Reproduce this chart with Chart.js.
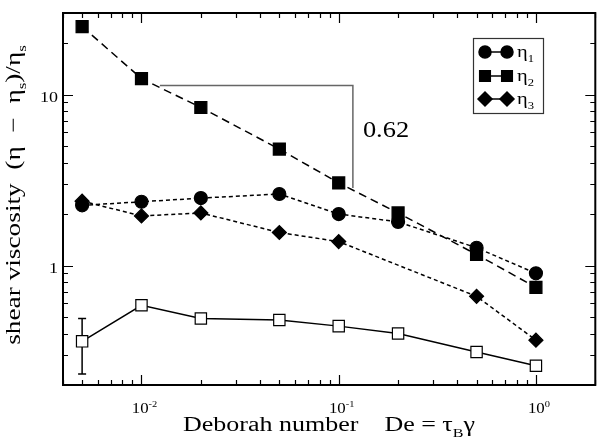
<!DOCTYPE html>
<html>
<head>
<meta charset="utf-8">
<script src="https://cdn.jsdelivr.net/npm/chart.js@4/dist/chart.umd.min.js"></script>
<style>
  html, body { margin: 0; padding: 0; background: #fff; }
  canvas { display: block; }
</style>
</head>
<body>
<canvas id="chart" width="605" height="442"></canvas>
<script>
// Deborah numbers (x)
const deborah = [0.005, 0.01, 0.02, 0.05, 0.1, 0.2, 0.5, 1];

// viscosity series
const eta1 = [2.25, 2.36, 2.48, 2.62, 2.0, 1.80, 1.27, 0.90];
const eta2 = [25.0, 12.4, 8.4, 4.8, 3.04, 2.03, 1.16, 0.745];
const eta3 = [2.38, 1.95, 2.03, 1.56, 1.38, null, 0.66, 0.366];
const etaOpen = [0.36, 0.585, 0.49, 0.48, 0.442, 0.40, 0.312, 0.259];

// error bar on the open squares (only first point)
const errLow = [0.232, null, null, null, null, null, null, null];
const errHigh = [0.49, null, null, null, null, null, null, null];

// slope guide
const slopeX = [0.0124, 0.118, 0.118];
const slopeY = [11.3, 11.3, 2.84];
const slopeLabel = '0.62';

// axes
const xRange = [0.004, 2];
const yRange = [0.2, 30];
const xTickValues = [0.01, 0.1, 1];
const xTickExps = ['-2', '-1', '0'];
const yTickValues = [1, 10];
const yTickLabels = ['1', '10'];

const legendNames = ['1', '2', '3'];

const serif = '"Liberation Serif", "Times New Roman", serif';
// text in the figure is wider than plain Times
const HS = 1.3;

function toPoints(xs, ys) {
    return xs.map((x, i) => ({ x: x, y: ys[i] }));
}

// draw text with sub/superscripts: parts = [[text, mode], ...]
function drawRich(ctx, parts, x, y, size, align, hs) {
    hs = hs || HS;
    let total = 0;
    const widths = parts.map(([t, mode]) => {
        const s = Math.round((mode ? size * 0.62 : size) * 10) / 10;
        ctx.font = s + 'px ' + serif;
        const w = ctx.measureText(t).width;
        total += w;
        return w;
    });
    let cx = 0;
    if (align === 'center') cx = -total / 2;
    if (align === 'right') cx = -total;
    ctx.save();
    ctx.translate(x, y);
    ctx.scale(hs, 1);
    ctx.textAlign = 'left';
    ctx.textBaseline = 'alphabetic';
    parts.forEach(([t, mode], i) => {
        const s = Math.round((mode ? size * 0.62 : size) * 10) / 10;
        ctx.font = s + 'px ' + serif;
        let dy = 0;
        if (mode === 'sub') dy = size * 0.3;
        if (mode === 'sup') dy = -size * 0.45;
        ctx.fillText(t, cx, dy);
        cx += widths[i];
    });
    ctx.restore();
}

function logTicks(min, max) {
    const out = [];
    for (let d = Math.floor(Math.log10(min)); d <= Math.ceil(Math.log10(max)); d++) {
        for (let k = 1; k <= 9; k++) {
            const v = k * Math.pow(10, d);
            if (v >= min * 0.999 && v <= max * 1.001) out.push({ v: v, major: k === 1 });
        }
    }
    return out;
}

const errorBars = {
    id: 'errorBars',
    beforeDatasetsDraw(chart) {
        const { ctx, scales } = chart;
        ctx.save();
        ctx.strokeStyle = '#000';
        ctx.lineWidth = 1.5;
        deborah.forEach((x, i) => {
            if (errLow[i] == null) return;
            const px = scales.x.getPixelForValue(x);
            const y1 = scales.y.getPixelForValue(errLow[i]);
            const y2 = scales.y.getPixelForValue(errHigh[i]);
            ctx.beginPath();
            ctx.moveTo(px, y1); ctx.lineTo(px, y2);
            ctx.moveTo(px - 4, y1); ctx.lineTo(px + 4, y1);
            ctx.moveTo(px - 4, y2); ctx.lineTo(px + 4, y2);
            ctx.stroke();
        });
        ctx.restore();
    }
};

const frameAndLabels = {
    id: 'frameAndLabels',
    afterDraw(chart) {
        const { ctx, chartArea: a, scales } = chart;
        ctx.save();
        ctx.fillStyle = '#000';
        ctx.strokeStyle = '#000';

        // ticks (inward, all four sides)
        ctx.lineWidth = 1.2;
        ctx.beginPath();
        logTicks(xRange[0], xRange[1]).forEach(t => {
            const px = Math.round(scales.x.getPixelForValue(t.v)) + 0.5;
            const len = t.major ? 10 : 5;
            ctx.moveTo(px, a.bottom); ctx.lineTo(px, a.bottom - len);
            ctx.moveTo(px, a.top); ctx.lineTo(px, a.top + len);
        });
        logTicks(yRange[0], yRange[1]).forEach(t => {
            const py = Math.round(scales.y.getPixelForValue(t.v)) + 0.5;
            const len = t.major ? 10 : 5;
            ctx.moveTo(a.left, py); ctx.lineTo(a.left + len, py);
            ctx.moveTo(a.right, py); ctx.lineTo(a.right - len, py);
        });
        ctx.stroke();

        // frame
        ctx.lineWidth = 2;
        ctx.strokeRect(a.left, a.top, a.right - a.left, a.bottom - a.top);

        // tick labels
        xTickValues.forEach((v, i) => {
            const px = scales.x.getPixelForValue(v);
            drawRich(ctx, [['10', ''], [xTickExps[i], 'sup']], px + 3, a.bottom + 28, 14, 'center', 1.2);
        });
        yTickValues.forEach((v, i) => {
            const py = scales.y.getPixelForValue(v);
            drawRich(ctx, [[yTickLabels[i], '']], a.left - 5, py + 7, 15, 'right', 1.2);
        });

        // axis titles
        drawRich(ctx, [['Deborah number    De = τ', ''], ['B', 'sub'], ['γ', '']],
            329, 431, 20, 'center');
        ctx.save();
        ctx.translate(20, 195);
        ctx.rotate(-Math.PI / 2);
        drawRich(ctx, [['shear viscosity  (η  −  η', ''], ['s', 'sub'], [')/η', ''], ['s', 'sub']],
            0, 0, 21, 'center');
        ctx.restore();

        // slope label
        const sx = scales.x.getPixelForValue(slopeX[1]);
        drawRich(ctx, [[slopeLabel, '']], sx + 10, 137, 24, 'left', 1.1);

        // legend
        const lx = 473, ly = 38, lw = 70, lh = 75;
        ctx.lineWidth = 1.2;
        ctx.strokeStyle = '#333';
        ctx.strokeRect(lx + 0.5, ly + 0.5, lw, lh);
        const styles = ['circle', 'rect', 'rectRot'];
        const radii = [6, 7.5, 7];
        const rows = [52, 76, 99];
        styles.forEach((st, i) => {
            const yy = rows[i];
            ctx.strokeStyle = '#000';
            ctx.lineWidth = 1.5;
            ctx.beginPath();
            ctx.moveTo(lx + 12, yy); ctx.lineTo(lx + 34, yy);
            ctx.stroke();
            ctx.fillStyle = '#000';
            Chart.helpers.drawPoint(ctx, { pointStyle: st, radius: radii[i], borderWidth: 1 }, lx + 12, yy);
            Chart.helpers.drawPoint(ctx, { pointStyle: st, radius: radii[i], borderWidth: 1 }, lx + 34, yy);
            ctx.fillStyle = '#000';
            drawRich(ctx, [['η', ''], [legendNames[i], 'sub']], lx + 44, yy + 5, 17, 'left', 1.2);
        });
        ctx.restore();
    }
};

function series(data, style, radius, dash, fill) {
    return {
        data: toPoints(deborah, data),
        showLine: true,
        spanGaps: true,
        borderColor: '#000',
        borderWidth: 1.5,
        borderDash: dash,
        pointStyle: style,
        pointRadius: radius,
        pointHoverRadius: radius,
        pointBackgroundColor: fill,
        pointBorderColor: '#000',
        pointBorderWidth: 1.2,
        fill: false
    };
}

const ctx = document.getElementById('chart').getContext('2d');
new Chart(ctx, {
    type: 'scatter',
    data: {
        datasets: [
            series(eta1, 'circle', 6.5, [4, 3], '#000'),
            series(eta2, 'rect', 8.5, [8, 5], '#000'),
            series(eta3, 'rectRot', 7, [4, 3], '#000'),
            series(etaOpen, 'rect', 8, [], '#fff'),
            {
                data: toPoints(slopeX, slopeY),
                showLine: true,
                borderColor: '#666',
                borderWidth: 1.5,
                pointRadius: 0,
                fill: false
            }
        ]
    },
    options: {
        responsive: false,
        animation: false,
        devicePixelRatio: 1,
        layout: { padding: { left: 63, right: 9, top: 13, bottom: 57 } },
        plugins: {
            legend: { display: false },
            tooltip: { enabled: false }
        },
        scales: {
            x: { type: 'logarithmic', min: xRange[0], max: xRange[1], display: false },
            y: { type: 'logarithmic', min: yRange[0], max: yRange[1], display: false }
        }
    },
    plugins: [errorBars, frameAndLabels]
});
</script>
</body>
</html>
